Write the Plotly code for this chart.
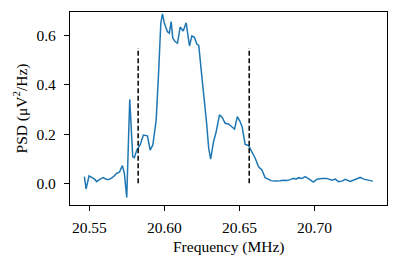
import plotly.graph_objects as go

freq_mhz = [20.5467, 20.5478, 20.5498, 20.5518, 20.5535, 20.5549, 20.5571, 20.5593, 20.5611, 20.5627,
            20.5645, 20.5660, 20.5683, 20.5700, 20.5720, 20.5733, 20.5749, 20.5769, 20.5778, 20.5789,
            20.5800, 20.5816, 20.5838, 20.5860, 20.5887, 20.5905, 20.5923, 20.5945, 20.5960, 20.5976,
            20.5987, 20.6000, 20.6020, 20.6033, 20.6045, 20.6056, 20.6071, 20.6087, 20.6105, 20.6125,
            20.6145, 20.6167, 20.6183, 20.6200, 20.6216, 20.6229, 20.6245, 20.6260, 20.6281, 20.6295,
            20.6308, 20.6327, 20.6345, 20.6367, 20.6385, 20.6405, 20.6427, 20.6449, 20.6467, 20.6486,
            20.6505, 20.6518, 20.6538, 20.6560, 20.6583, 20.6605, 20.6627, 20.6649, 20.6671, 20.6693,
            20.6711, 20.6731, 20.6751, 20.6771, 20.6793, 20.6816, 20.6838, 20.6860, 20.6878, 20.6893,
            20.6916, 20.6938, 20.6967, 20.6993, 20.7016, 20.7049, 20.7083, 20.7116, 20.7138, 20.7160,
            20.7183, 20.7205, 20.7238, 20.7271, 20.7305, 20.7327, 20.7353, 20.7371, 20.7389]

psd = [0.027, -0.023, 0.030, 0.022, 0.017, 0.007, 0.017, 0.023, 0.017, 0.016,
       0.020, 0.027, 0.041, 0.045, 0.072, 0.041, -0.057, 0.341, 0.244, 0.108,
       0.104, 0.135, 0.156, 0.196, 0.193, 0.135, 0.156, 0.257, 0.433, 0.650,
       0.688, 0.650, 0.616, 0.610, 0.657, 0.589, 0.576, 0.569, 0.635, 0.619,
       0.652, 0.558, 0.599, 0.593, 0.566, 0.560, 0.461, 0.379, 0.245, 0.143,
       0.098, 0.168, 0.210, 0.278, 0.268, 0.244, 0.241, 0.230, 0.220, 0.271,
       0.250, 0.229, 0.158, 0.154, 0.128, 0.102, 0.067, 0.054, 0.023, 0.016,
       0.011, 0.009, 0.009, 0.011, 0.013, 0.012, 0.015, 0.020, 0.017, 0.023,
       0.020, 0.027, 0.016, 0.005, 0.017, 0.020, 0.020, 0.013, 0.017, 0.007,
       0.009, 0.016, 0.008, 0.017, 0.024, 0.017, 0.013, 0.011, 0.009]

marker_freqs = [20.5825, 20.6565]
marker_span = [0.0, 0.55]

x_ticks = [20.55, 20.60, 20.65, 20.70]
x_tick_labels = ["20.55", "20.60", "20.65", "20.70"]
y_ticks = [0.0, 0.2, 0.4, 0.6]
y_tick_labels = ["0.0", "0.2", "0.4", "0.6"]

x_title = "Frequency (MHz)"
y_title = "PSD (μV<sup>2</sup>/Hz)"

FONT = "Liberation Serif"
FS = 15.5

fig = go.Figure()
fig.add_trace(go.Scatter(x=freq_mhz, y=psd, mode="lines",
                         line=dict(color="#1f77b4", width=1.5), showlegend=False))
for f in marker_freqs:
    fig.add_trace(go.Scatter(x=[f, f], y=marker_span, mode="lines",
                             line=dict(color="black", width=1.5, dash="5px,2.5px"),
                             showlegend=False))

fig.update_layout(
    width=399, height=268,
    margin=dict(l=70, r=12, t=12, b=63, autoexpand=False),
    plot_bgcolor="white", paper_bgcolor="white",
    font=dict(family=FONT, size=FS, color="black"),
    xaxis=dict(range=[20.5371, 20.7483], tickvals=x_ticks, ticktext=x_tick_labels,
               ticks="outside", ticklen=5, tickwidth=1, tickcolor="black",
               ticklabelstandoff=3,
               showline=True, linecolor="black", linewidth=1.1, mirror=True,
               showgrid=False, zeroline=False, automargin=False),
    yaxis=dict(range=[-0.088, 0.696], tickvals=y_ticks, ticktext=y_tick_labels,
               ticks="outside", ticklen=5, tickwidth=1, tickcolor="black",
               ticklabelstandoff=5,
               showline=True, linecolor="black", linewidth=1.1, mirror=True,
               showgrid=False, zeroline=False, automargin=False),
    annotations=[
        dict(text=x_title, xref="paper", yref="paper", x=0.5, y=-0.2176,
             xanchor="center", yanchor="middle", showarrow=False,
             font=dict(family=FONT, size=FS)),
        dict(text=y_title, xref="paper", yref="paper", x=-0.1546, y=0.5,
             xanchor="center", yanchor="middle", showarrow=False, textangle=-90,
             font=dict(family=FONT, size=FS)),
    ],
)

fig.write_html("out.html", config={"displayModeBar": False},
               post_script="document.body.style.margin='0';document.body.style.padding='0';")
